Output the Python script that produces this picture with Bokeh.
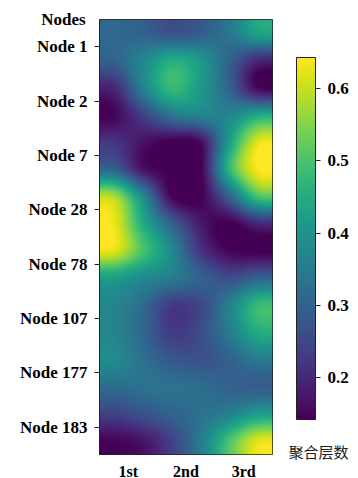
import numpy as np
from bokeh.plotting import figure
from bokeh.models import Range1d, FixedTicker, LinearColorMapper, ColorBar, Label
from bokeh.palettes import Viridis256
from bokeh.embed import file_html
from bokeh.resources import INLINE

# ---- data ----
nodes = ["Node 1", "Node 2", "Node 7", "Node 28", "Node 78", "Node 107", "Node 177", "Node 183"]
layers = ["1st", "2nd", "3rd"]
cbar_ticks = [0.2, 0.3, 0.4, 0.5, 0.6]
value_low = 0.142
value_high = 0.643

# values at half-cell resolution (16 rows x 6 cols, top to bottom)
row_00 = [0.31, 0.30, 0.27, 0.29, 0.34, 0.43]
row_01 = [0.30, 0.37, 0.45, 0.41, 0.30, 0.20]
row_02 = [0.20, 0.36, 0.48, 0.41, 0.30, 0.15]
row_03 = [0.15, 0.24, 0.34, 0.37, 0.37, 0.44]
row_04 = [0.22, 0.17, 0.14, 0.16, 0.42, 0.62]
row_05 = [0.30, 0.17, 0.14, 0.14, 0.47, 0.64]
row_06 = [0.58, 0.38, 0.15, 0.14, 0.30, 0.50]
row_07 = [0.63, 0.45, 0.30, 0.18, 0.14, 0.20]
row_08 = [0.62, 0.50, 0.38, 0.22, 0.15, 0.14]
row_09 = [0.42, 0.38, 0.35, 0.30, 0.26, 0.30]
row_10 = [0.37, 0.32, 0.23, 0.25, 0.36, 0.48]
row_11 = [0.37, 0.31, 0.23, 0.26, 0.35, 0.45]
row_12 = [0.38, 0.33, 0.28, 0.27, 0.30, 0.35]
row_13 = [0.32, 0.33, 0.33, 0.32, 0.30, 0.29]
row_14 = [0.24, 0.27, 0.30, 0.33, 0.36, 0.42]
row_15 = [0.15, 0.17, 0.24, 0.35, 0.50, 0.62]

grid = np.array([row_00, row_01, row_02, row_03, row_04, row_05, row_06, row_07,
                 row_08, row_09, row_10, row_11, row_12, row_13, row_14, row_15])


# ---- bicubic rendering (smooth shading, like imshow interpolation='bicubic') ----
def _w(x, a=-0.5):
    x = np.abs(x)
    return np.where(x <= 1, (a + 2) * x**3 - (a + 3) * x**2 + 1,
                    np.where(x < 2, a * x**3 - 5 * a * x**2 + 8 * a * x - 4 * a, 0.0))


def _resample(arr, n_out, axis):
    n_in = arr.shape[axis]
    u = (np.arange(n_out) + 0.5) * n_in / n_out - 0.5
    i0 = np.floor(u).astype(int)
    t = u - i0
    out = 0
    for k in (-1, 0, 1, 2):
        idx = np.clip(i0 + k, 0, n_in - 1)
        w = _w(t - k)
        taken = np.take(arr, idx, axis=axis)
        shape = [1, 1]
        shape[axis] = n_out
        out = out + taken * w.reshape(shape)
    return out


img = _resample(_resample(grid, 435, 0), 173, 1)[::-1]

mapper = LinearColorMapper(palette=Viridis256, low=value_low, high=value_high)

p = figure(frame_width=173, frame_height=435,
           x_range=Range1d(0, len(layers)), y_range=Range1d(0, len(nodes)),
           output_backend="svg", toolbar_location=None,
           min_border_left=99, min_border_top=18, min_border_bottom=25, min_border_right=0)
p.image(image=[img], x=0, y=0, dw=len(layers), dh=len(nodes), color_mapper=mapper)

p.grid.visible = False
p.outline_line_color = "#222222"
p.outline_line_width = 1

serif = "Liberation Serif"

xa = p.xaxis[0]
xa.ticker = FixedTicker(ticks=[i + 0.5 for i in range(len(layers))])
xa.major_label_overrides = {i + 0.5: lab for i, lab in enumerate(layers)}
xa.major_tick_out = 0
xa.major_tick_in = 0
xa.minor_tick_out = 0
xa.minor_tick_in = 0
xa.axis_line_color = None
xa.major_label_standoff = 8
xa.major_label_text_font = serif
xa.major_label_text_font_style = "bold"
xa.major_label_text_font_size = "16px"
xa.major_label_text_color = "black"

ya = p.yaxis[0]
ya.ticker = FixedTicker(ticks=[len(nodes) - 0.5 - i for i in range(len(nodes))])
ya.major_label_overrides = {len(nodes) - 0.5 - i: lab for i, lab in enumerate(nodes)}
ya.major_tick_out = 5
ya.major_tick_in = 0
ya.minor_tick_out = 0
ya.minor_tick_in = 0
ya.axis_line_color = "#222222"
ya.major_tick_line_color = "#222222"
ya.major_label_standoff = 7
ya.major_label_text_font = serif
ya.major_label_text_font_style = "bold"
ya.major_label_text_font_size = "17px"
ya.major_label_text_color = "black"

cb = ColorBar(color_mapper=mapper, ticker=FixedTicker(ticks=cbar_ticks),
              width=19, height=362, location=(24, 35), padding=0, margin=0,
              major_tick_out=5, major_tick_in=0, major_tick_line_color="#222222",
              minor_tick_out=0, minor_tick_in=0,
              bar_line_color="#222222", label_standoff=7,
              major_label_text_font=serif, major_label_text_font_style="bold",
              major_label_text_font_size="17px", major_label_text_color="black")
p.add_layout(cb, "right")

p.add_layout(Label(x=-36, y=0, x_units="screen", y_units="screen", text="Nodes",
                   text_align="center", text_baseline="middle", text_font=serif,
                   text_font_style="bold", text_font_size="17px", text_color="black"), "above")
p.add_layout(Label(x=219, y=52, x_units="screen", y_units="screen", text="聚合层数",
                   text_align="center", text_baseline="middle", text_font="Noto Sans CJK SC",
                   text_font_size="15px", text_color="#222222"), "below")

open("out.html", "w").write(file_html(p, INLINE))
